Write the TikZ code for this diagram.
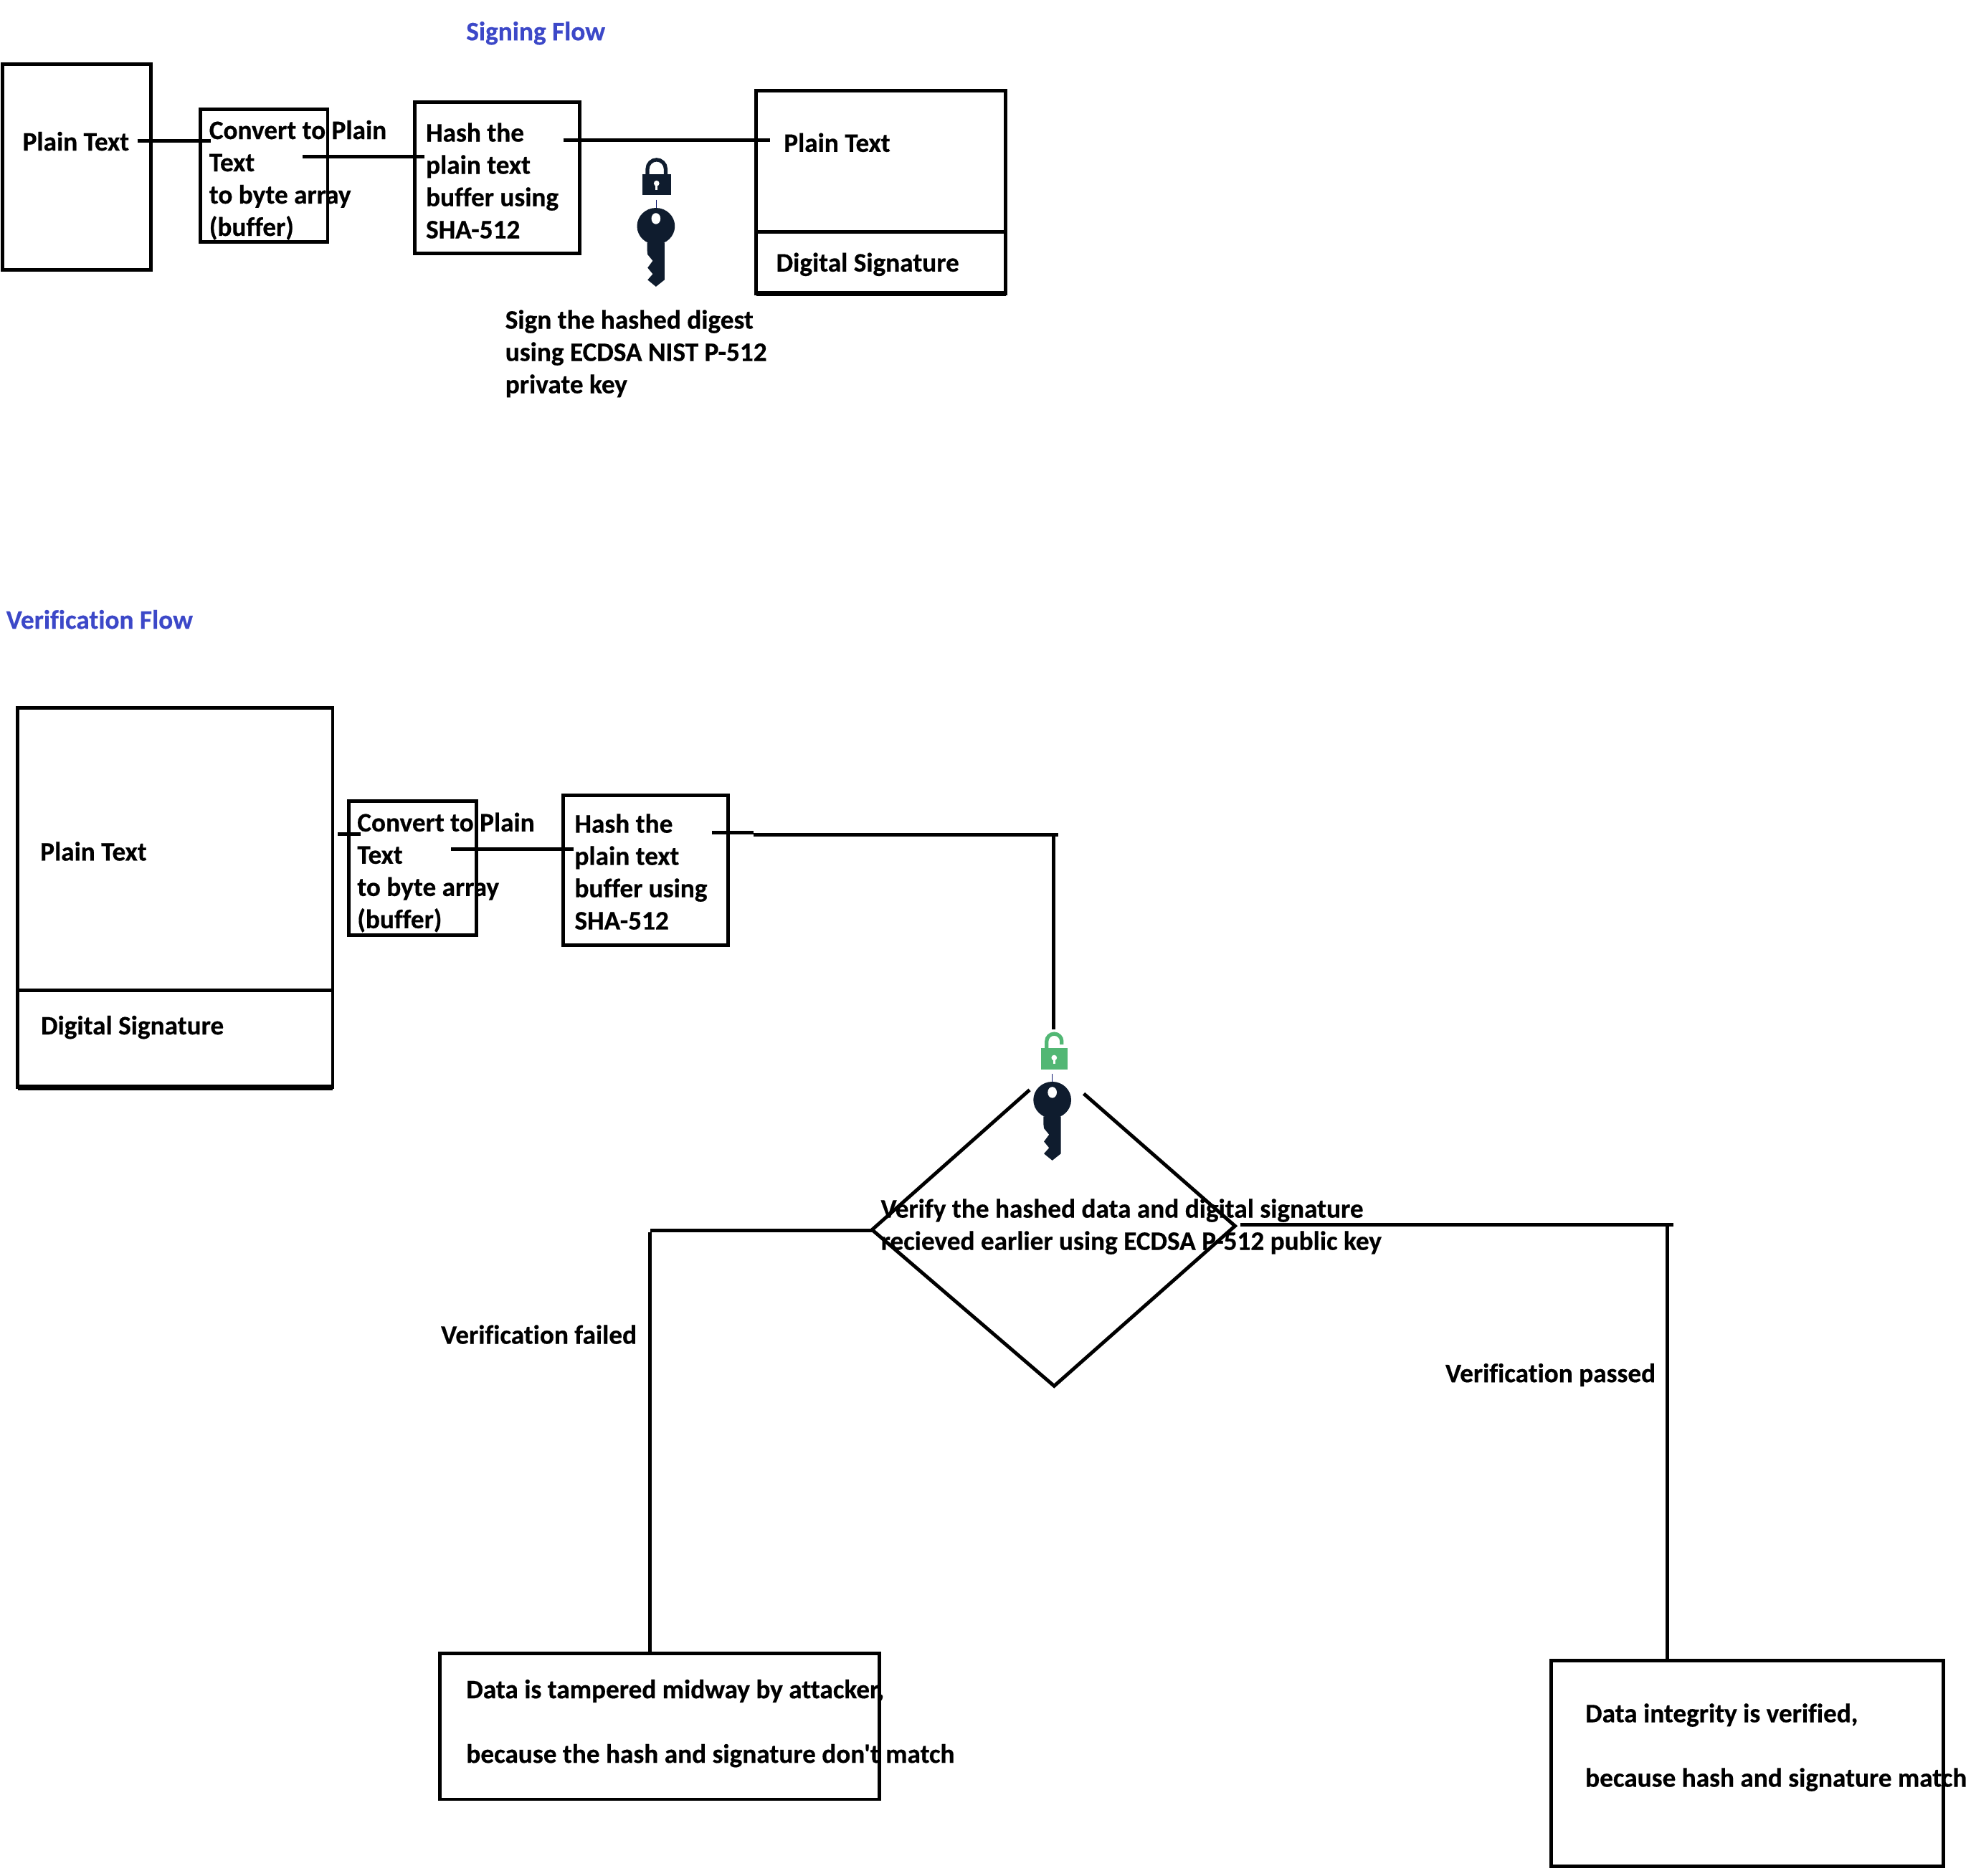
\documentclass[tikz,border=0pt]{standalone}
\usepackage{fontspec}
\setmainfont{Carlito}[Ligatures={TeXOff,NoCommon},BoldFeatures={FakeBold=0.5}]
\usepackage{tikz}
\usetikzlibrary{positioning}
\definecolor{titleblue}{HTML}{3C48C8}
\definecolor{icondark}{HTML}{0F1C2E}
\definecolor{icongreen}{HTML}{52B774}
\tikzset{
  box/.style={draw,line width=2.8pt,inner sep=0pt,outer sep=0pt},
  flow/.style={line width=2.8pt},
  heavy/.style={line width=4.5pt},
  txt/.style={inner sep=0pt,outer sep=0pt,anchor=base west,font=\fontsize{21.2}{25.6}\selectfont\bfseries},
  para/.style={txt,anchor=north west,align=left},
  wide/.style={para,font=\fontsize{21.2}{51.2}\selectfont\bfseries},
  head/.style={txt,text=titleblue},
  keyicon/.pic={
    \draw[icondark!70!blue,line width=.4pt] (0,-21) -- (0,-14);
    \fill[icondark] (-7,13) -- (-7,19) -- (-6.6,22.5) -- (-2.5,27.5) -- (-6.6,33) -- (-2.5,38) -- (-6.6,42.6)
      -- (0,48) -- (6.8,42.6) -- (6.8,13) -- cycle;
    \fill[icondark] (0,0) ellipse [x radius=15,y radius=14.5];
    \fill[white] (0,-6) ellipse [x radius=3.6,y radius=4.4];
  },
  lockshut/.pic={
    \draw[icondark,line width=3pt] (-7.2,1) -- (-7.2,-4.5) arc[start angle=180,end angle=360,x radius=7.2,y radius=7.2] -- (7.2,1);
    \fill[icondark] (-11.3,0) rectangle (11.3,16);
    \fill[white] (0,7) circle (2.2);
    \fill[white] (-.9,7) rectangle (.9,12);
  },
  lockopen/.pic={
    \draw[icongreen,line width=3pt] (-6,1) -- (-6,-5.5) arc[start angle=180,end angle=360,x radius=6,y radius=6] -- (6,-3);
    \fill[icongreen] (-10.5,0) rectangle (10.5,17);
    \fill[white] (0,7.5) circle (2.2);
    \fill[white] (-.9,7.5) rectangle (.9,12.5);
  }
}
\begin{document}
\begin{tikzpicture}[x=1pt,y=-1pt]
  \useasboundingbox (0,0) rectangle (1568,1488.4);

  % signing flow
  \node[head] (signhead) at (370,32) {Signing Flow};
  \node[box,minimum width=118pt,minimum height=163pt] (plainA) at (61,132.5) {};
  \node[box,minimum width=101pt,minimum height=105pt] (convA) at (209.5,139.5) {};
  \node[box,minimum width=131pt,minimum height=120pt] (hashA) at (394.5,141) {};
  \node[box,minimum width=198pt,minimum height=161pt] (msgA) at (699,152.5) {};
  \node[txt] (plainAtxt) at (18,119.5) {Plain Text};
  \node[para] (convAtxt) at (166,95.5) {Convert to Plain\\Text\\to byte array\\(buffer)};
  \node[para] (hashAtxt) at (338,97.5) {Hash the\\plain text\\buffer using\\SHA-512};
  \node[txt] (msgAtxt) at (622,120.5) {Plain Text};
  \node[txt] (sigAtxt) at (616,215.5) {Digital Signature};
  \node[para] (signtxt) at (401,246) {Sign the hashed digest\\using ECDSA NIST P-512\\private key};
  \draw[flow] (msgA.west |- 0,184) -- (msgA.east |- 0,184);
  \draw[heavy] (msgA.south west) -- (msgA.south east);
  \coordinate (a1) at (109,112);
  \coordinate (a2) at (167,112);
  \coordinate (a3) at (240,124.5);
  \coordinate (a4) at (337,124.5);
  \coordinate (a5) at (447,111);
  \coordinate (a6) at (611,111);
  \draw[flow] (a1) -- (a2);
  \draw[flow] (a3) -- (a4);
  \draw[flow] (a5) -- (a6);
  \pic at (521,138.5) {lockshut};
  \pic at (520.5,179.5) {keyicon};

  % verification flow
  \node[head] (verhead) at (5,499) {Verification Flow};
  \node[box,minimum width=250pt,minimum height=301pt] (msgB) at (139,712.5) {};
  \node[box,minimum width=101pt,minimum height=106pt] (convB) at (327.5,689) {};
  \node[box,minimum width=131pt,minimum height=119pt] (hashB) at (512.5,690.5) {};
  \node[txt] (msgBtxt) at (32,683) {Plain Text};
  \node[txt] (sigBtxt) at (32.5,821) {Digital Signature};
  \node[para] (convBtxt) at (283.5,645) {Convert to Plain\\Text\\to byte array\\(buffer)};
  \node[para] (hashBtxt) at (456,646) {Hash the\\plain text\\buffer using\\SHA-512};
  \draw[flow] (msgB.west |- 0,786) -- (msgB.east |- 0,786);
  \draw[heavy] (msgB.south west) -- (msgB.south east);
  \coordinate (b1) at (268,662);
  \coordinate (b2) at (286,662);
  \coordinate (b3) at (358,674);
  \coordinate (b4) at (455,674);
  \coordinate (b5) at (565,661);
  \coordinate (b6) at (598,661);
  \coordinate (b7) at (598,662.5);
  \coordinate (b8) at (840,662.5);
  \coordinate (b9) at (836,662.5);
  \coordinate (b10) at (836,817);
  \draw[flow] (b1) -- (b2);
  \draw[flow] (b3) -- (b4);
  \draw[flow] (b5) -- (b6);
  \draw[flow] (b7) -- (b8);
  \draw[flow] (b9) -- (b10);
  \pic at (836.5,832) {lockopen};
  \pic at (835,873) {keyicon};

  % decision
  \coordinate (dtl) at (817,865);
  \coordinate (dl) at (692,976);
  \coordinate (db) at (836.5,1100);
  \coordinate (dr) at (980,973);
  \coordinate (dtr) at (860,868);
  \draw[flow,miter limit=10] (dtl) -- (dl) -- (db) -- (dr) -- (dtr);
  \node[para] (verifytxt) at (699,951.5) {Verify the hashed data and digital signature\\recieved earlier using ECDSA P-512 public key};
  \node[txt] (failtxt) at (350,1066.5) {Verification failed};
  \node[txt] (passtxt) at (1147,1097) {Verification passed};
  \node[box,minimum width=349pt,minimum height=116pt] (failbox) at (523.5,1370) {};
  \node[box,minimum width=311pt,minimum height=163pt] (passbox) at (1386.5,1399.5) {};
  \node[wide] (failboxtxt) at (370,1333) {Data is tampered midway by attacker,\\because the hash and signature don't match};
  \node[wide] (passboxtxt) at (1258,1352) {Data integrity is verified,\\because hash and signature match};
  \coordinate (c1) at (692,976.5);
  \coordinate (c2) at (516,976.5);
  \coordinate (c3) at (515.5,978);
  \coordinate (c4) at (984,972);
  \coordinate (c5) at (1328,972);
  \coordinate (c6) at (1323,972);
  \draw[flow] (c1) -- (c2);
  \draw[flow] (c3) -- (c3 |- failbox.north);
  \draw[flow] (c4) -- (c5);
  \draw[flow] (c6) -- (c6 |- passbox.north);
\end{tikzpicture}
\end{document}
